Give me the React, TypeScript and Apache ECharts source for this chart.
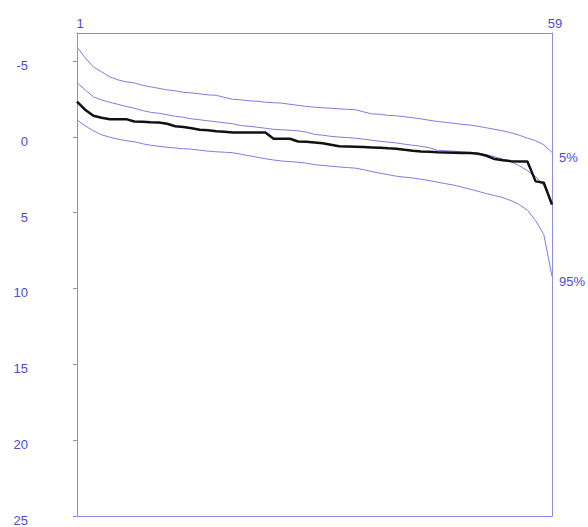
import React, { useEffect, useRef } from "react";
import * as echarts from "echarts";

const xTickLabels = [1, 59];
const yTickValues = [-5, 0, 5, 10, 15, 20, 25];

const p5 = [
  -5.92, -5.2, -4.6, -4.28, -3.95, -3.75, -3.62, -3.55, -3.39, -3.29,
  -3.19, -3.09, -3.03, -2.93, -2.89, -2.83, -2.76, -2.73, -2.6, -2.47,
  -2.43, -2.37, -2.34, -2.28, -2.24, -2.22, -2.14, -2.07, -2.0, -1.95,
  -1.91, -1.88, -1.84, -1.81, -1.78, -1.64, -1.51, -1.48, -1.41, -1.38,
  -1.32, -1.25, -1.18, -1.09, -1.01, -0.95, -0.89, -0.82, -0.77, -0.69,
  -0.59, -0.49, -0.39, -0.26, -0.1, 0.09, 0.26, 0.53, 1.03,
];

const p50 = [
  -3.57, -3.09, -2.63, -2.43, -2.27, -2.14, -2.0, -1.88, -1.73, -1.61,
  -1.55, -1.45, -1.35, -1.28, -1.18, -1.12, -1.05, -0.99, -0.92, -0.86,
  -0.74, -0.69, -0.63, -0.56, -0.49, -0.46, -0.43, -0.39, -0.3, -0.16,
  -0.1, -0.03, 0.02, 0.05, 0.1, 0.16, 0.23, 0.3, 0.35, 0.41,
  0.49, 0.56, 0.63, 0.72, 0.89, 0.92, 0.95, 0.99, 1.03, 1.09,
  1.18, 1.32, 1.48, 1.64, 1.91, 2.24, 2.63, 3.22, 4.26,
];

const p95 = [
  -1.12, -0.72, -0.39, -0.13, 0.03, 0.16, 0.26, 0.33, 0.46, 0.56,
  0.63, 0.69, 0.74, 0.79, 0.82, 0.89, 0.95, 0.99, 1.02, 1.05,
  1.15, 1.25, 1.35, 1.45, 1.53, 1.6, 1.64, 1.68, 1.74, 1.84,
  1.89, 1.94, 1.99, 2.03, 2.07, 2.17, 2.3, 2.4, 2.5, 2.6,
  2.66, 2.72, 2.8, 2.89, 2.99, 3.09, 3.19, 3.32, 3.45, 3.6,
  3.75, 3.88, 4.01, 4.21, 4.47, 4.84, 5.53, 6.45, 9.21,
];

const observed = [
  -2.32, -1.78, -1.38, -1.25, -1.16, -1.16, -1.16, -1.01, -0.99, -0.95,
  -0.94, -0.86, -0.69, -0.64, -0.56, -0.46, -0.43, -0.36, -0.33, -0.28,
  -0.28, -0.28, -0.28, -0.28, 0.13, 0.13, 0.13, 0.31, 0.33, 0.38,
  0.43, 0.53, 0.63, 0.64, 0.66, 0.68, 0.7, 0.72, 0.76, 0.79,
  0.86, 0.92, 0.97, 0.99, 1.02, 1.03, 1.05, 1.07, 1.07, 1.12,
  1.25, 1.47, 1.55, 1.61, 1.63, 1.63, 2.94, 3.03, 4.47,
];

const AXIS = "#8c8ce6";
const TEXT = "#4b4bd6";
const THIN = "#7d7de2";
const FONT = "'Liberation Sans', Arial, sans-serif";

const toPairs = (vals: number[]) => vals.map((v, i) => [i + 1, v]);

export default function App() {
  const ref = useRef<HTMLDivElement>(null);
  useEffect(() => {
    if (!ref.current) return;
    const chart = echarts.init(ref.current, undefined, { renderer: "svg" });
    const thin = (name: string, vals: number[], label?: string) => ({
      name,
      type: "line",
      data: toPairs(vals),
      symbol: "none",
      lineStyle: { color: THIN, width: 1 },
      z: 2,
      endLabel: label
        ? {
            show: true,
            formatter: label,
            color: TEXT,
            fontSize: 13,
            fontFamily: FONT,
            distance: 7,
            offset: [0, 5],
          }
        : { show: false },
    });
    const lineOnly = {
      axisLine: { show: true, onZero: false, lineStyle: { color: AXIS, width: 1 } },
      axisTick: { show: false },
      axisLabel: { show: false },
      splitLine: { show: false },
    };
    chart.setOption({
      animation: false,
      backgroundColor: "#ffffff",
      textStyle: { fontFamily: FONT },
      grid: { left: 77, top: 33, right: 36, bottom: 10 },
      xAxis: [
        {
          type: "value",
          position: "top",
          min: 1,
          max: 59,
          axisLine: { show: true, onZero: false, lineStyle: { color: AXIS, width: 1 } },
          axisTick: { show: false },
          splitLine: { show: false },
          axisLabel: {
            customValues: xTickLabels,
            color: TEXT,
            fontSize: 13,
            fontFamily: FONT,
            margin: 3,
            padding: [0, 0, 0, 6],
          },
        },
        { type: "value", position: "bottom", min: 1, max: 59, ...lineOnly },
      ],
      yAxis: [
        {
          type: "value",
          inverse: true,
          min: -6.84,
          max: 25,
          position: "left",
          axisLine: { show: true, onZero: false, lineStyle: { color: AXIS, width: 1 } },
          axisTick: {
            show: true,
            customValues: yTickValues,
            length: 4,
            lineStyle: { color: AXIS },
          },
          splitLine: { show: false },
          axisLabel: {
            customValues: yTickValues,
            color: TEXT,
            fontSize: 13,
            fontFamily: FONT,
            margin: 49,
            verticalAlign: "top",
            lineHeight: 9,
          },
        },
        { type: "value", inverse: true, min: -6.84, max: 25, position: "right", ...lineOnly },
      ],
      series: [
        thin("5%", p5, "5%"),
        thin("50%", p50),
        thin("95%", p95, "95%"),
        {
          name: "observed",
          type: "line",
          data: toPairs(observed),
          symbol: "none",
          lineStyle: { color: "#111111", width: 2.5 },
          z: 3,
        },
      ],
    });
    return () => chart.dispose();
  }, []);
  return (
    <div
      ref={ref}
      style={{ position: "fixed", left: 0, top: 0, width: 588, height: 527 }}
    />
  );
}
